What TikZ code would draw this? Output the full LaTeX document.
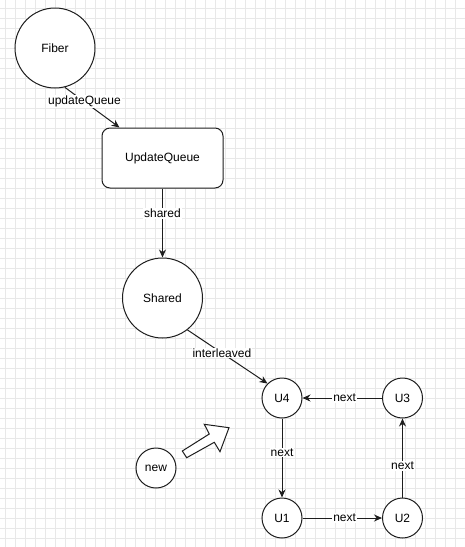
\documentclass[tikz,border=0pt]{standalone}
\usepackage{fontspec}
\setmainfont{Liberation Sans}
\usetikzlibrary{arrows.meta}
\definecolor{gridc}{RGB}{232,232,232}
\definecolor{ink}{RGB}{30,30,30}
\tikzset{
  circ/.style={circle, draw=ink, line width=1pt, fill=white, inner sep=0pt, font=\fontsize{12}{14}\selectfont},
  bigc/.style={circ, minimum size=80pt},
  smallc/.style={circ, minimum size=40pt},
  qbox/.style={rectangle, rounded corners=8pt, draw=ink, line width=1pt, fill=white, minimum width=121pt, minimum height=60pt, inner sep=0pt, font=\fontsize{12}{14}\selectfont},
  arr/.style={draw=ink, line width=1pt, -{Stealth[length=8pt,width=7pt]}},
  lbl/.style={fill=white, inner sep=1pt, font=\fontsize{12}{14}\selectfont},
}
\begin{document}
\begin{tikzpicture}[x=1pt, y=-1pt]
\useasboundingbox (0,0) rectangle (465,547);
\fill[white] (0,0) rectangle (465,547);
\foreach \gx in {5,15,...,465} \draw[gridc, line width=0.7pt] (\gx,0) -- (\gx,547);
\foreach \gy in {8,18,...,547} \draw[gridc, line width=0.7pt] (0,\gy) -- (465,\gy);

\node[bigc] (fiber) at (55,48) {Fiber};
\node[qbox] (uq) at (162.5,158) {UpdateQueue};
\node[bigc] (shared) at (162.5,298) {Shared};
\node[smallc] (u4) at (282,398) {U4};
\node[smallc] (u3) at (402.5,398) {U3};
\node[smallc] (u1) at (282,518) {U1};
\node[smallc] (u2) at (402.5,518) {U2};
\node[smallc] (new) at (156,468) {new};

\draw[arr] (fiber.-76) -- node[lbl, pos=0.36] {updateQueue} ([xshift=18pt]uq.north west);
\draw[arr] (uq.south) -- node[lbl, pos=0.36] {shared} (shared.north);
\draw[arr] (shared.-52) -- node[lbl, pos=0.43] {interleaved} (u4.135);
\draw[arr] (u3.west) -- node[lbl, pos=0.47] {next} (u4.east);
\draw[arr] (u4.south) -- node[lbl, pos=0.43] {next} (u1.north);
\draw[arr] (u1.east) -- node[lbl, pos=0.53] {next} (u2.west);
\draw[arr] (u2.north) -- node[lbl, pos=0.4] {next} (u3.south);

\draw[draw=ink, line width=1pt, fill=white, line join=miter]
  (182.3,451) -- (209.3,434) -- (204.3,424.3) -- (229,427.7) -- (220,451.7) -- (214.3,442.3) -- (186.7,457.7) -- cycle;
\end{tikzpicture}
\end{document}
